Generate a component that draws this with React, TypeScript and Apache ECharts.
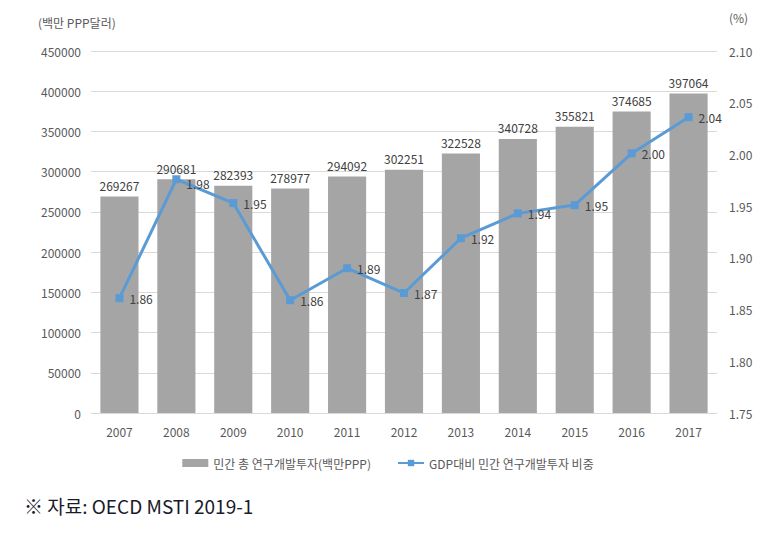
import React, { useEffect, useRef } from "react";
import * as echarts from "echarts";

const categories = ["2007", "2008", "2009", "2010", "2011", "2012", "2013", "2014", "2015", "2016", "2017"];
const rdInvestment = [269267, 290681, 282393, 278977, 294092, 302251, 322528, 340728, 355821, 374685, 397064];
const gdpShare = [1.861, 1.976, 1.953, 1.859, 1.890, 1.866, 1.919, 1.943, 1.951, 2.001, 2.036];
const barName = "민간 총 연구개발투자(백만PPP)";
const lineName = "GDP대비 민간 연구개발투자 비중";

const FONT = "'Noto Sans CJK KR', 'Noto Sans', sans-serif";
const TXT = "#595959";

export default function App() {
  const ref = useRef<HTMLDivElement>(null);
  useEffect(() => {
    if (!ref.current) return;
    const chart = echarts.init(ref.current, null, { renderer: "svg" });
    const lineData = gdpShare.map((v, i) =>
      i === 1 ? { value: v, label: { offset: [0, 4] } } : { value: v }
    );
    chart.setOption({
      animation: false,
      backgroundColor: "#ffffff",
      textStyle: { fontFamily: FONT },
      grid: { left: 91, right: 59, top: 51, bottom: 121 },
      legend: {
        left: "center",
        top: 452,
        itemGap: 26,
        textStyle: { color: TXT, fontSize: 12, fontFamily: FONT },
        data: [
          { name: barName, icon: "rect", itemStyle: { color: "#a5a5a5" } },
          { name: lineName },
        ],
        itemWidth: 26,
        itemHeight: 8,
      },
      xAxis: {
        type: "category",
        data: categories,
        axisLine: { show: false },
        axisTick: { show: false },
        axisLabel: { color: TXT, fontSize: 12, margin: 12, fontFamily: FONT },
      },
      yAxis: [
        {
          type: "value",
          min: 0,
          max: 450000,
          interval: 50000,
          axisLine: { show: false },
          axisTick: { show: false },
          axisLabel: {
            color: TXT,
            fontSize: 12,
            margin: 10,
            fontFamily: FONT,
            formatter: (v: number) => String(Math.round(v)),
          },
          splitLine: { lineStyle: { color: "#d9d9d9", width: 1 } },
        },
        {
          type: "value",
          min: 1.75,
          max: 2.1,
          interval: 0.05,
          axisLine: { show: false },
          axisTick: { show: false },
          axisLabel: {
            color: TXT,
            fontSize: 12,
            margin: 12,
            fontFamily: FONT,
            formatter: (v: number) => v.toFixed(2),
          },
          splitLine: { show: false },
        },
      ],
      series: [
        {
          name: barName,
          type: "bar",
          data: rdInvestment,
          yAxisIndex: 0,
          barCategoryGap: "33%",
          itemStyle: { color: "#a5a5a5" },
          label: {
            show: true,
            position: "top",
            distance: 5,
            color: "#404040",
            fontSize: 12,
            fontFamily: FONT,
          },
        },
        {
          name: lineName,
          type: "line",
          data: lineData,
          yAxisIndex: 1,
          symbol: "rect",
          symbolSize: 8,
          lineStyle: { color: "#5b9bd5", width: 3 },
          itemStyle: { color: "#5b9bd5" },
          label: {
            show: true,
            position: "right",
            distance: 6,
            color: "#404040",
            fontSize: 12,
            fontFamily: FONT,
            formatter: (p: any) => Number(p.value).toFixed(2),
          },
        },
      ],
      graphic: [
        {
          type: "text",
          left: 38,
          top: 16,
          style: { text: "(백만 PPP달러)", fill: TXT, font: `12px ${FONT}` },
        },
        {
          type: "text",
          left: 729,
          top: 11,
          style: { text: "(%)", fill: TXT, font: `12px ${FONT}` },
        },
        {
          type: "text",
          left: 24,
          top: 496,
          style: { text: "※ 자료: OECD MSTI 2019-1", fill: "#1a1a2a", font: `normal 19px ${FONT}` },
        },
      ],
    });
    return () => chart.dispose();
  }, []);
  return (
    <div
      ref={ref}
      style={{ position: "fixed", left: 0, top: 0, width: 776, height: 534 }}
    />
  );
}
